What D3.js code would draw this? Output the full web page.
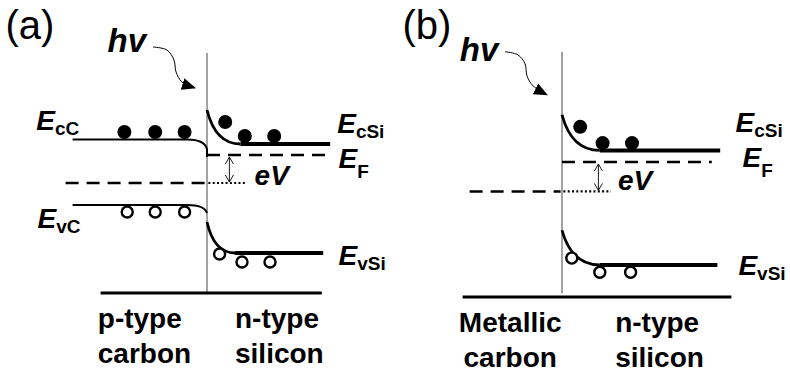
<!DOCTYPE html>
<html>
<head>
<meta charset="utf-8">
<script src="https://cdn.jsdelivr.net/npm/d3@7"></script>
<style>
body { margin: 0; background: #fff; }
text { font-family: "Liberation Sans", Arial, sans-serif; fill: #000; }
</style>
</head>
<body>
<script>
// positions are in junction units (0 = interface, 1 = one unit into silicon),
// energies in eV-like units relative to the silicon Fermi level

var panelNames = ["(a)", "(b)"];
var leftMaterial = [["p-type", "carbon"], ["Metallic", "carbon"]];
var rightMaterial = [["n-type", "silicon"], ["n-type", "silicon"]];

// carbon band edges, drawn only for p-type carbon (a)
var carbonBandsA = [
    {band: "Ec", from: -0.96, to: -0.14, level: 0.31, edge: 0.12, drop: -0.04},
    {band: "Ev", from: -0.96, to: -0.14, level: -1.00, edge: -1.16, drop: -1.16}
];

// silicon band edges: level at interface (edge), flat level, where bending stops
var siBandsA = [
    {band: "Ec", edge: 0.90, level: 0.22, bend: 0.24, to: 0.88},
    {band: "Ev", edge: -1.34, level: -1.96, bend: 0.20, to: 0.83}
];
var siBandsB = [
    {band: "Ec", edge: 0.90, level: 0.22, bend: 0.27, to: 1.13},
    {band: "Ev", edge: -1.30, level: -1.96, bend: 0.27, to: 1.11}
];

// electrons (filled) and holes (open) [position, energy]
var electronsA = [[-0.59, 0.46], [-0.37, 0.46], [-0.16, 0.46], [0.13, 0.66], [0.27, 0.38], [0.48, 0.38]];
var holesA = [[-0.57, -1.14], [-0.37, -1.14], [-0.16, -1.14], [0.09, -1.98], [0.25, -2.14], [0.45, -2.14]];
var electronsB = [[0.13, 0.67], [0.29, 0.36], [0.50, 0.36]];
var holesB = [[0.07, -1.83], [0.27, -2.10], [0.49, -2.10]];

// Fermi levels: silicon side end, carbon level, carbon start, dotted extension
var fermiA = {siTo: 0.88, level: -0.56, from: -1.01, dottedTo: 0.27, arrowAt: 0.16};
var fermiB = {siTo: 1.07, level: -0.56, from: -0.66, dottedTo: 0.35, arrowAt: 0.26};

// energy labels [main, subscript, position, energy]
var labelsA = [
    ["E", "cC", -1.22, 0.50], ["E", "vC", -1.21, -1.46],
    ["E", "cSi", 0.93, 0.44], ["E", "F", 0.94, -0.26], ["E", "vSi", 0.94, -2.20]
];
var labelsB = [
    ["E", "cSi", 1.24, 0.57], ["E", "F", 1.29, -0.10], ["E", "vSi", 1.26, -2.15]
];
var eVLabel = [[0.34, -0.60], [0.40, -0.53]];

// photon arrow (hv) path and label
var hvArrowA = [[-0.386, 2.16], [-0.286, 2.10], [-0.236, 1.90], [-0.221, 1.66], [-0.179, 1.46], [-0.086, 1.34]];
var hvArrowB = [[-0.407, 2.10], [-0.314, 2.04], [-0.264, 1.87], [-0.250, 1.64], [-0.207, 1.45], [-0.107, 1.28]];
var hvLabel = [[-0.71, 2.06], [-0.73, 1.92]];
var titlePos = [[-1.44, 2.32], [-1.14, 2.34]];

// interface wall [top, bottom] and base line [from, to, energy]
var wall = [[2.04, -2.74], [2.10, -2.50]];
var baseLine = [[-0.76, 0.82, -2.76], [-0.71, 1.21, -2.57]];
var materialX = [[-0.78, 0.20], [-0.37, 0.38]];

// layout
var width = 790, height = 377;
var junctionX = [207, 562];
var fermiY = [155, 162];
var unitX = 140;
var unitE = [50, 52.5];

var svg = d3.select("body").append("svg")
    .attr("width", width)
    .attr("height", height);

svg.append("defs").append("marker")
    .attr("id", "head")
    .attr("viewBox", "0 -7 14 14")
    .attr("refX", 13)
    .attr("refY", 0)
    .attr("markerUnits", "userSpaceOnUse")
    .attr("markerWidth", 14)
    .attr("markerHeight", 14)
    .attr("orient", "auto")
    .append("path")
    .attr("d", "M0,-6L14,0L0,6Z")
    .attr("fill", "#000");

var panels = [
    {carbon: carbonBandsA, si: siBandsA, electrons: electronsA, holes: holesA, fermi: fermiA, labels: labelsA, hv: hvArrowA},
    {carbon: [], si: siBandsB, electrons: electronsB, holes: holesB, fermi: fermiB, labels: labelsB, hv: hvArrowB}
];

panels.forEach(function(p, i) {
    var x = d3.scaleLinear().domain([0, 1]).range([junctionX[i], junctionX[i] + unitX]);
    var y = d3.scaleLinear().domain([0, 1]).range([fermiY[i], fermiY[i] - unitE[i]]);
    var g = svg.append("g");

    // interface
    g.append("line")
        .attr("x1", x(0)).attr("x2", x(0))
        .attr("y1", y(wall[i][0])).attr("y2", y(wall[i][1]))
        .attr("stroke", "#666")
        .attr("stroke-width", 1.2);

    // base line
    g.append("line")
        .attr("x1", x(baseLine[i][0])).attr("x2", x(baseLine[i][1]))
        .attr("y1", y(baseLine[i][2])).attr("y2", y(baseLine[i][2]))
        .attr("stroke", "#000")
        .attr("stroke-width", 3);

    // carbon bands
    g.selectAll(".carbon")
        .data(p.carbon)
        .enter()
        .append("path")
        .attr("class", "carbon")
        .attr("fill", "none")
        .attr("stroke", "#000")
        .attr("stroke-width", 2)
        .attr("d", function(b) {
            return "M" + x(b.from) + "," + y(b.level)
                + "L" + x(b.to) + "," + y(b.level)
                + "C" + x(b.to * 0.35) + "," + y(b.level)
                + " " + x(-0.012) + "," + y(b.level - (b.level - b.edge) * 0.35)
                + " " + x(0) + "," + y(b.edge)
                + "L" + x(0) + "," + y(b.drop);
        });

    // silicon bands: bent part then flat part
    g.selectAll(".bend")
        .data(p.si)
        .enter()
        .append("path")
        .attr("class", "bend")
        .attr("fill", "none")
        .attr("stroke", "#000")
        .attr("stroke-width", 2.8)
        .attr("d", function(b) {
            var de = b.edge - b.level;
            return "M" + x(0) + "," + y(b.edge)
                + "C" + x(b.bend * 0.15) + "," + y(b.level + de * 0.4)
                + " " + x(b.bend * 0.45) + "," + y(b.level)
                + " " + x(b.bend) + "," + y(b.level);
        });

    g.selectAll(".flat")
        .data(p.si)
        .enter()
        .append("line")
        .attr("class", "flat")
        .attr("x1", function(b) { return x(b.bend); })
        .attr("x2", function(b) { return x(b.to); })
        .attr("y1", function(b) { return y(b.level); })
        .attr("y2", function(b) { return y(b.level); })
        .attr("stroke", "#000")
        .attr("stroke-width", 4);

    // Fermi levels
    var f = p.fermi;
    g.append("line")
        .attr("x1", x(0)).attr("x2", x(f.siTo))
        .attr("y1", y(0)).attr("y2", y(0))
        .attr("stroke", "#000")
        .attr("stroke-width", 2.5)
        .attr("stroke-dasharray", "13,8");
    g.append("line")
        .attr("x1", x(f.from)).attr("x2", x(-0.01))
        .attr("y1", y(f.level)).attr("y2", y(f.level))
        .attr("stroke", "#000")
        .attr("stroke-width", 2.5)
        .attr("stroke-dasharray", "13,8");
    g.append("line")
        .attr("x1", x(0.01)).attr("x2", x(f.dottedTo))
        .attr("y1", y(f.level)).attr("y2", y(f.level))
        .attr("stroke", "#000")
        .attr("stroke-width", 2.2)
        .attr("stroke-dasharray", "2,2.3");

    // eV double arrow
    var ax = x(f.arrowAt), ay1 = y(0) + 2, ay2 = y(f.level) - 1;
    g.append("path")
        .attr("fill", "none")
        .attr("stroke", "#000")
        .attr("stroke-width", 0.9)
        .attr("d", "M" + ax + "," + ay1 + "L" + ax + "," + ay2
            + "M" + (ax - 4) + "," + (ay1 + 7) + "L" + ax + "," + ay1 + "L" + (ax + 4) + "," + (ay1 + 7)
            + "M" + (ax - 4) + "," + (ay2 - 7) + "L" + ax + "," + ay2 + "L" + (ax + 4) + "," + (ay2 - 7));

    // carriers
    g.selectAll(".electron")
        .data(p.electrons)
        .enter()
        .append("circle")
        .attr("class", "electron")
        .attr("cx", function(d) { return x(d[0]); })
        .attr("cy", function(d) { return y(d[1]); })
        .attr("r", 7)
        .attr("fill", "#000");

    g.selectAll(".hole")
        .data(p.holes)
        .enter()
        .append("circle")
        .attr("class", "hole")
        .attr("cx", function(d) { return x(d[0]); })
        .attr("cy", function(d) { return y(d[1]); })
        .attr("r", 5.5)
        .attr("fill", "#fff")
        .attr("stroke", "#000")
        .attr("stroke-width", 2.4);

    // photon arrow
    g.append("path")
        .datum(p.hv)
        .attr("fill", "none")
        .attr("stroke", "#000")
        .attr("stroke-width", 1)
        .attr("marker-end", "url(#head)")
        .attr("d", d3.line()
            .x(function(d) { return x(d[0]); })
            .y(function(d) { return y(d[1]); })
            .curve(d3.curveCatmullRom));

    g.append("text")
        .attr("x", x(hvLabel[i][0]))
        .attr("y", y(hvLabel[i][1]))
        .style("font-size", "33px")
        .style("font-weight", "bold")
        .style("font-style", "italic")
        .text("hv");

    g.append("text")
        .attr("x", x(titlePos[i][0]))
        .attr("y", y(titlePos[i][1]))
        .style("font-size", "40px")
        .text(panelNames[i]);

    g.append("text")
        .attr("x", x(eVLabel[i][0]))
        .attr("y", y(eVLabel[i][1]))
        .style("font-size", "28px")
        .style("font-weight", "bold")
        .style("font-style", "italic")
        .text("eV");

    // energy labels
    var lab = g.selectAll(".label")
        .data(p.labels)
        .enter()
        .append("text")
        .attr("class", "label")
        .attr("x", function(d) { return x(d[2]); })
        .attr("y", function(d) { return y(d[3]); })
        .style("font-weight", "bold");
    lab.append("tspan")
        .style("font-size", "28px")
        .style("font-style", "italic")
        .text(function(d) { return d[0]; });
    lab.append("tspan")
        .style("font-size", "19px")
        .attr("dy", function(d) { return d[1] === "F" ? 10 : 5; })
        .text(function(d) { return d[1]; });

    // material names under the base line
    var baseY = y(baseLine[i][2]);
    [leftMaterial[i], rightMaterial[i]].forEach(function(lines, k) {
        var anchor = (i === 1 && k === 0) ? "middle" : "start";
        lines.forEach(function(t, j) {
            g.append("text")
                .attr("x", x(materialX[i][k]))
                .attr("y", baseY + 35 + j * 35)
                .attr("text-anchor", anchor)
                .style("font-size", "28px")
                .style("font-weight", "bold")
                .text(t);
        });
    });
});
</script>
</body>
</html>
